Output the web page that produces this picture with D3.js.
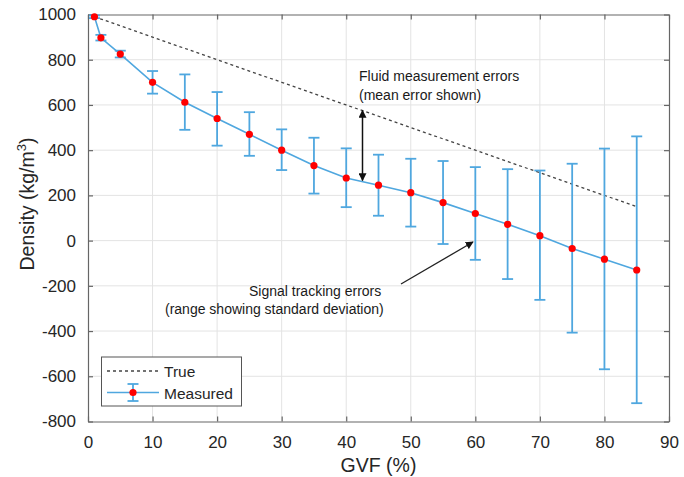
<!DOCTYPE html>
<html>
<head>
<meta charset="utf-8">
<script src="https://cdn.jsdelivr.net/npm/d3@7"></script>
<style>
  body { margin: 0; background: #fff; }
  svg { display: block; font-family: Arial, "Liberation Sans", sans-serif; }
</style>
</head>
<body>
<svg id="chart" width="684" height="477"></svg>
<script>
// GVF points (%) and densities (kg/m3)
const gvf = [1, 2, 5, 10, 15, 20, 25, 30, 35, 40, 45, 50, 55, 60, 65, 70, 75, 80, 85];
const densTrue = [990, 980, 950, 900, 850, 800, 750, 700, 650, 600, 550, 500, 450, 400, 350, 300, 250, 200, 150];
const densMeasured = [990, 897, 825, 700, 612, 540, 470, 400, 332, 277, 245, 212, 168, 120, 72, 22, -35, -82, -130];
const errUpper = [996, 910, 840, 750, 735, 657, 568, 492, 455, 408, 380, 362, 352, 325, 316, 310, 340, 407, 461];
const errLower = [984, 885, 810, 650, 490, 420, 375, 312, 208, 148, 110, 62, -15, -85, -170, -262, -407, -569, -719];

const xTicks = [0, 10, 20, 30, 40, 50, 60, 70, 80, 90];
const yTicks = [-800, -600, -400, -200, 0, 200, 400, 600, 800, 1000];
const seriesNames = ['True', 'Measured'];

const axisColor = '#262626';
const blue = '#4fa7df';

// plot box in page pixels
const box = { left: 88, right: 669, top: 14.5, bottom: 421.5 };

const svg = d3.select('#chart');

const x = d3.scaleLinear().domain([0, 90]).range([box.left, box.right]);
const y = d3.scaleLinear().domain([-800, 1000]).range([box.bottom, box.top]);

// grid
const grid = svg.append('g').attr('stroke', '#e3e3e3').attr('stroke-width', 1);
grid.selectAll('.gx').data(xTicks.slice(1, -1)).enter().append('line')
    .attr('x1', d => x(d)).attr('x2', d => x(d))
    .attr('y1', box.top).attr('y2', box.bottom);
grid.selectAll('.gy').data(yTicks.slice(1, -1)).enter().append('line')
    .attr('y1', d => y(d)).attr('y2', d => y(d))
    .attr('x1', box.left).attr('x2', box.right);

// axes (ticks inward, MATLAB style box)
const tickLen = 5;
const plain = d => String(d);
const axB = svg.append('g').attr('transform', `translate(0,${box.bottom})`)
    .call(d3.axisBottom(x).tickValues(xTicks).tickFormat(plain).tickSizeInner(-tickLen).tickSizeOuter(0).tickPadding(14));
const axT = svg.append('g').attr('transform', `translate(0,${box.top})`)
    .call(d3.axisTop(x).tickValues(xTicks).tickSizeInner(-tickLen).tickSizeOuter(0).tickFormat(''));
const axL = svg.append('g').attr('transform', `translate(${box.left},0)`)
    .call(d3.axisLeft(y).tickValues(yTicks).tickFormat(plain).tickSizeInner(-tickLen).tickSizeOuter(0).tickPadding(12));
const axR = svg.append('g').attr('transform', `translate(${box.right},0)`)
    .call(d3.axisRight(y).tickValues(yTicks).tickSizeInner(-tickLen).tickSizeOuter(0).tickFormat(''));

[axB, axT, axL, axR].forEach(a => {
  a.selectAll('path').attr('stroke', '#666').attr('stroke-width', 1.2);
  a.selectAll('line').attr('stroke', '#666').attr('stroke-width', 1.2);
  a.selectAll('text').attr('fill', axisColor).style('font-size', '17px')
      .style('font-family', 'Arial, "Liberation Sans", sans-serif');
});

// axis labels
svg.append('text')
    .attr('x', (box.left + box.right) / 2).attr('y', 472)
    .attr('text-anchor', 'middle').attr('fill', axisColor)
    .style('font-size', '19.5px').text('GVF (%)');

const yl = svg.append('text')
    .attr('transform', 'translate(34,204) rotate(-90)')
    .attr('text-anchor', 'middle').attr('fill', axisColor)
    .style('font-size', '19.5px');
yl.append('tspan').text('Density (kg/m');
yl.append('tspan').attr('dy', -8).style('font-size', '13px').text('3');
yl.append('tspan').attr('dy', 8).text(')');

// true line
const line = d3.line().x((d, i) => x(gvf[i])).y(d => y(d));
svg.append('path').datum(densTrue)
    .attr('d', line).attr('fill', 'none')
    .attr('stroke', '#444').attr('stroke-width', 1.3).attr('stroke-dasharray', '3,3');

// error bars
const capW = 5.5;
const eb = svg.append('g').attr('stroke', blue).attr('stroke-width', 1.8);
eb.selectAll('.v').data(gvf).enter().append('line')
    .attr('x1', d => x(d)).attr('x2', d => x(d))
    .attr('y1', (d, i) => y(errUpper[i])).attr('y2', (d, i) => y(errLower[i]));
eb.selectAll('.cu').data(gvf).enter().append('line')
    .attr('x1', d => x(d) - capW).attr('x2', d => x(d) + capW)
    .attr('y1', (d, i) => y(errUpper[i])).attr('y2', (d, i) => y(errUpper[i]));
eb.selectAll('.cl').data(gvf).enter().append('line')
    .attr('x1', d => x(d) - capW).attr('x2', d => x(d) + capW)
    .attr('y1', (d, i) => y(errLower[i])).attr('y2', (d, i) => y(errLower[i]));

// measured line + markers
svg.append('path').datum(densMeasured)
    .attr('d', line).attr('fill', 'none')
    .attr('stroke', blue).attr('stroke-width', 1.6);
svg.selectAll('.pt').data(densMeasured).enter().append('circle')
    .attr('cx', (d, i) => x(gvf[i])).attr('cy', d => y(d))
    .attr('r', 3.6).attr('fill', '#ff0000');

// annotations
const defs = svg.append('defs');
defs.append('marker').attr('id', 'ah').attr('viewBox', '0 0 10 10')
    .attr('refX', 9).attr('refY', 5).attr('markerWidth', 8).attr('markerHeight', 8)
    .attr('markerUnits', 'userSpaceOnUse').attr('orient', 'auto-start-reverse')
  .append('path').attr('d', 'M0,0 L10,5 L0,10 Z').attr('fill', '#111');

svg.append('line')
    .attr('x1', 362.5).attr('y1', 110.5).attr('x2', 362.5).attr('y2', 180.5)
    .attr('stroke', '#111').attr('stroke-width', 1.5)
    .attr('marker-start', 'url(#ah)').attr('marker-end', 'url(#ah)');

svg.append('line')
    .attr('x1', 401).attr('y1', 284).attr('x2', 473).attr('y2', 242)
    .attr('stroke', '#222').attr('stroke-width', 1.3)
    .attr('marker-end', 'url(#ah)');

const ann = svg.append('g').attr('fill', '#1a1a1a').style('font-size', '14px');
ann.append('text').attr('x', 359).attr('y', 81).text('Fluid measurement errors');
ann.append('text').attr('x', 359).attr('y', 100).text('(mean error shown)');
ann.append('text').attr('x', 249).attr('y', 296).text('Signal tracking errors');
ann.append('text').attr('x', 165).attr('y', 314).text('(range showing standard deviation)');

// legend
const lg = svg.append('g');
lg.append('rect').attr('x', 101.5).attr('y', 357).attr('width', 140).attr('height', 49)
    .attr('fill', '#fff').attr('stroke', '#555').attr('stroke-width', 1);
lg.append('line').attr('x1', 107).attr('x2', 159).attr('y1', 371).attr('y2', 371)
    .attr('stroke', '#444').attr('stroke-width', 1.3).attr('stroke-dasharray', '3,3');
lg.append('line').attr('x1', 107).attr('x2', 159).attr('y1', 392.5).attr('y2', 392.5)
    .attr('stroke', blue).attr('stroke-width', 1.6);
lg.append('line').attr('x1', 133).attr('x2', 133).attr('y1', 384).attr('y2', 401)
    .attr('stroke', blue).attr('stroke-width', 1.8);
[384, 401].forEach(yy => lg.append('line').attr('x1', 133 - capW).attr('x2', 133 + capW)
    .attr('y1', yy).attr('y2', yy).attr('stroke', blue).attr('stroke-width', 1.8));
lg.append('circle').attr('cx', 133).attr('cy', 392.5).attr('r', 3.6).attr('fill', '#ff0000');
lg.selectAll('.lt').data(seriesNames).enter().append('text')
    .attr('x', 164).attr('y', (d, i) => 377 + i * 21.5)
    .attr('fill', axisColor).style('font-size', '15.5px').text(d => d);
</script>
</body>
</html>
